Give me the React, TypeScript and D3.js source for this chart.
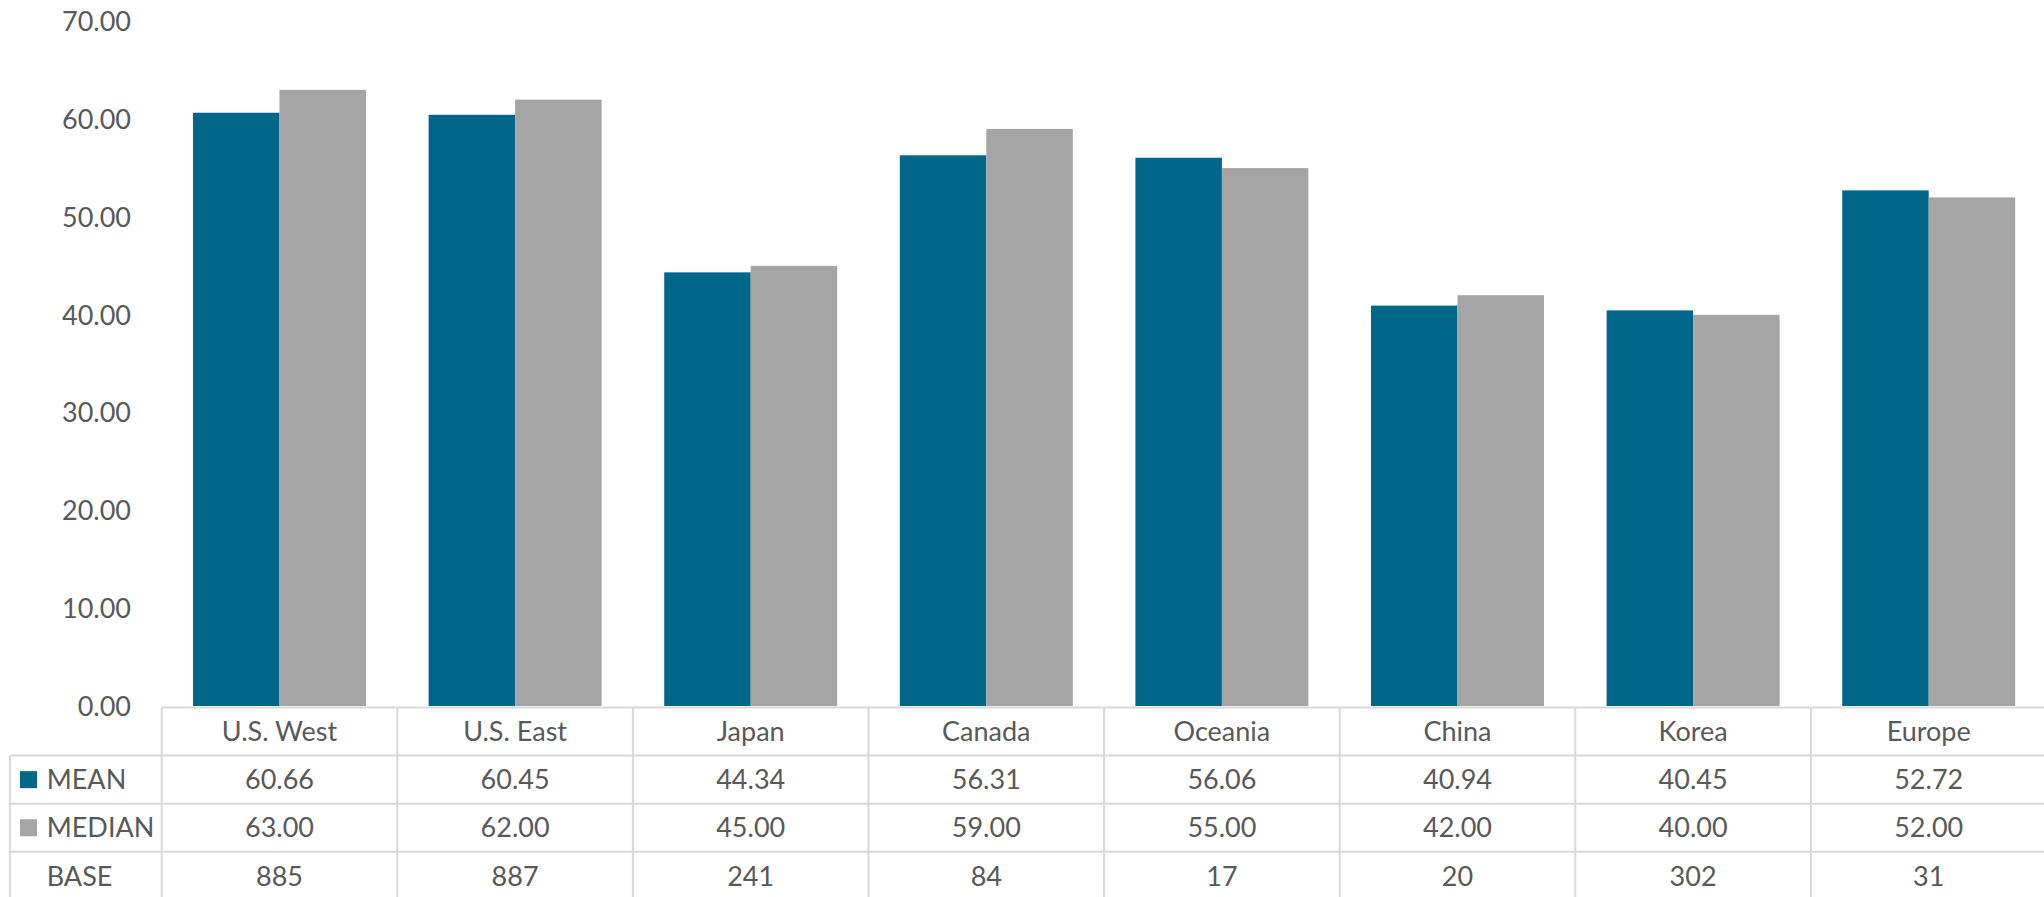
import React from "react";
import * as d3 from "d3";

const categories = ["U.S. West", "U.S. East", "Japan", "Canada", "Oceania", "China", "Korea", "Europe"];
const meanValues = [60.66, 60.45, 44.34, 56.31, 56.06, 40.94, 40.45, 52.72];
const medianValues = [63.0, 62.0, 45.0, 59.0, 55.0, 42.0, 40.0, 52.0];
const baseValues = [885, 887, 241, 84, 17, 20, 302, 31];
const yTicks = [0, 10, 20, 30, 40, 50, 60, 70];
const seriesNames = ["MEAN", "MEDIAN"];
const seriesColors = ["#00678B", "#A5A5A5"];

const W = 2044;
const H = 897;
const FONT = "Lato, 'Open Sans', sans-serif";
const TEXT = "#595959";
const GRID = "#D9D9D9";

export default function App() {
  const plotLeft = 161.7;
  const plotRight = plotLeft + 235.6 * 8;
  const yZero = 706;
  const yTop = 21.4;

  const x = d3.scaleBand<string>().domain(categories).range([plotLeft, plotRight]).paddingInner(0).paddingOuter(0);
  const inner = d3.scaleBand<string>().domain(seriesNames).range([0, x.bandwidth()]).paddingOuter(0.362).paddingInner(0);
  const y = d3.scaleLinear().domain([0, 70]).range([yZero, yTop]);

  const tableTop = 707.5;
  const rowH = 48.1;
  const rows = [tableTop, tableTop + rowH, tableTop + 2 * rowH, tableTop + 3 * rowH, tableTop + 4 * rowH];
  const legendLeft = 10;
  const fs = 27;

  const fmt2 = d3.format(".2f");
  const series = [meanValues, medianValues];

  return (
    <svg width={W} height={H} style={{ position: "absolute", left: 0, top: 0, background: "#fff" }} fontFamily={FONT}>
      <rect x={0} y={0} width={W} height={H} fill="#fff" />
      {/* y axis labels */}
      {yTicks.map((t) => (
        <text key={t} x={131} y={y(t)} dy="0.36em" textAnchor="end" fontSize={fs} fill={TEXT}>
          {fmt2(t)}
        </text>
      ))}
      {/* bars */}
      {categories.map((c, i) => (
        <g key={c}>
          {series.map((vals, s) => (
            <rect
              key={s}
              x={(x(c) as number) + (inner(seriesNames[s]) as number)}
              y={y(vals[i])}
              width={inner.bandwidth()}
              height={yZero - y(vals[i])}
              fill={seriesColors[s]}
            />
          ))}
        </g>
      ))}
      {/* table lines */}
      <g stroke={GRID} strokeWidth={2}>
        <line x1={plotLeft} x2={W + 5} y1={rows[0]} y2={rows[0]} />
        {rows.slice(1).map((r, i) => (
          <line key={i} x1={legendLeft} x2={W + 5} y1={r} y2={r} />
        ))}
        <line x1={legendLeft} x2={legendLeft} y1={rows[1]} y2={rows[4]} />
        {categories.map((c, i) => (
          <line key={c} x1={x(c) as number} x2={x(c) as number} y1={rows[0]} y2={rows[4]} />
        ))}
        <line x1={plotRight} x2={plotRight} y1={rows[0]} y2={rows[4]} />
      </g>
      {/* category labels */}
      {categories.map((c) => (
        <text key={c} x={(x(c) as number) + x.bandwidth() / 2} y={(rows[0] + rows[1]) / 2} dy="0.36em" textAnchor="middle" fontSize={fs} fill={TEXT}>
          {c}
        </text>
      ))}
      {/* series rows */}
      {series.map((vals, s) => (
        <g key={s}>
          <rect x={20} y={(rows[s + 1] + rows[s + 2]) / 2 - 8.5} width={17} height={17} fill={seriesColors[s]} />
          <text x={46.7} y={(rows[s + 1] + rows[s + 2]) / 2} dy="0.36em" fontSize={fs} fill={TEXT}>
            {seriesNames[s]}
          </text>
          {categories.map((c, i) => (
            <text key={c} x={(x(c) as number) + x.bandwidth() / 2} y={(rows[s + 1] + rows[s + 2]) / 2} dy="0.36em" textAnchor="middle" fontSize={fs} fill={TEXT}>
              {fmt2(vals[i])}
            </text>
          ))}
        </g>
      ))}
      {/* base row */}
      <text x={46.7} y={(rows[3] + rows[4]) / 2} dy="0.36em" fontSize={fs} fill={TEXT}>
        BASE
      </text>
      {categories.map((c, i) => (
        <text key={c} x={(x(c) as number) + x.bandwidth() / 2} y={(rows[3] + rows[4]) / 2} dy="0.36em" textAnchor="middle" fontSize={fs} fill={TEXT}>
          {baseValues[i]}
        </text>
      ))}
    </svg>
  );
}
